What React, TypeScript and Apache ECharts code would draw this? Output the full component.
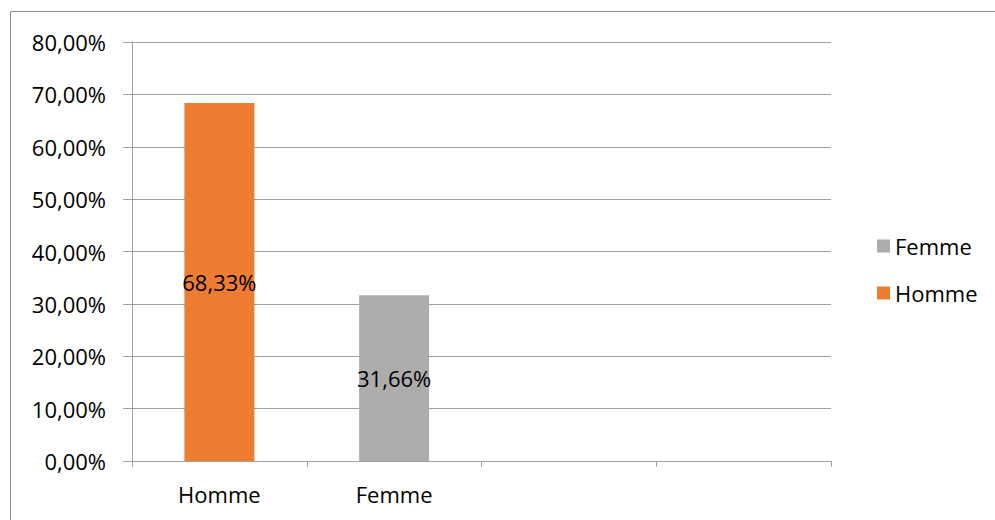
import React, { useEffect, useRef } from "react";
import * as echarts from "echarts";

const categories = ["Homme", "Femme", "", ""];
const hommeValues = [68.33, null, null, null];
const femmeValues = [null, 31.66, null, null];
const yTicks = { min: 0, max: 80, interval: 10 };

const FONT = "Open Sans";
const FS = 22;
const fmt = (v: number) => v.toFixed(2).replace(".", ",") + "%";

export default function App() {
  const ref = useRef<HTMLDivElement>(null);
  useEffect(() => {
    const chart = echarts.init(ref.current!, null, { renderer: "svg" });
    chart.setOption({
      animation: false,
      backgroundColor: "#ffffff",
      textStyle: { fontFamily: FONT },
      graphic: [
        {
          type: "rect",
          shape: { x: 10.5, y: 11.5, width: 1000, height: 600 },
          style: { fill: "none", stroke: "#8c8c8c", lineWidth: 1 },
          silent: true,
        },
      ],
      grid: { left: 132, top: 42, right: 164, bottom: 59, containLabel: false },
      legend: {
        orient: "vertical",
        left: 872,
        top: 230,
        data: ["Femme", "Homme"],
        icon: "rect",
        itemWidth: 13,
        itemHeight: 13,
        itemGap: 25,
        textStyle: { fontFamily: FONT, fontSize: FS, color: "#000" },
      },
      xAxis: {
        type: "category",
        data: categories,
        axisLine: { show: true, lineStyle: { color: "#a0a0a0", width: 1 } },
        axisTick: { show: true, length: 6, alignWithLabel: false, lineStyle: { color: "#a0a0a0" } },
        axisLabel: { color: "#000", fontSize: FS, fontFamily: FONT, margin: 22 },
        splitLine: { show: false },
      },
      yAxis: {
        type: "value",
        min: yTicks.min,
        max: yTicks.max,
        interval: yTicks.interval,
        axisLine: { show: true, lineStyle: { color: "#a0a0a0", width: 1 } },
        axisTick: { show: true, length: 9, lineStyle: { color: "#a0a0a0" } },
        axisLabel: { color: "#000", fontSize: FS, fontFamily: FONT, margin: 26, formatter: (v: number) => fmt(v) },
        splitLine: { show: true, lineStyle: { color: "#a0a0a0", width: 1 } },
      },
      series: [
        {
          name: "Homme",
          type: "bar",
          data: hommeValues,
          barWidth: 70,
          barGap: "-100%",
          itemStyle: { color: "#ED7D31" },
          label: {
            show: true,
            position: "inside",
            color: "#000",
            fontSize: FS,
            fontFamily: FONT,
            formatter: (p: any) => fmt(p.value),
          },
        },
        {
          name: "Femme",
          type: "bar",
          data: femmeValues,
          barWidth: 70,
          barGap: "-100%",
          itemStyle: { color: "#AEABAB" },
          label: {
            show: true,
            position: "inside",
            color: "#000",
            fontSize: FS,
            fontFamily: FONT,
            formatter: (p: any) => fmt(p.value),
          },
        },
      ],
    });
    return () => chart.dispose();
  }, []);
  return (
    <div
      ref={ref}
      style={{ position: "fixed", left: 0, top: 0, width: 995, height: 520 }}
    />
  );
}
